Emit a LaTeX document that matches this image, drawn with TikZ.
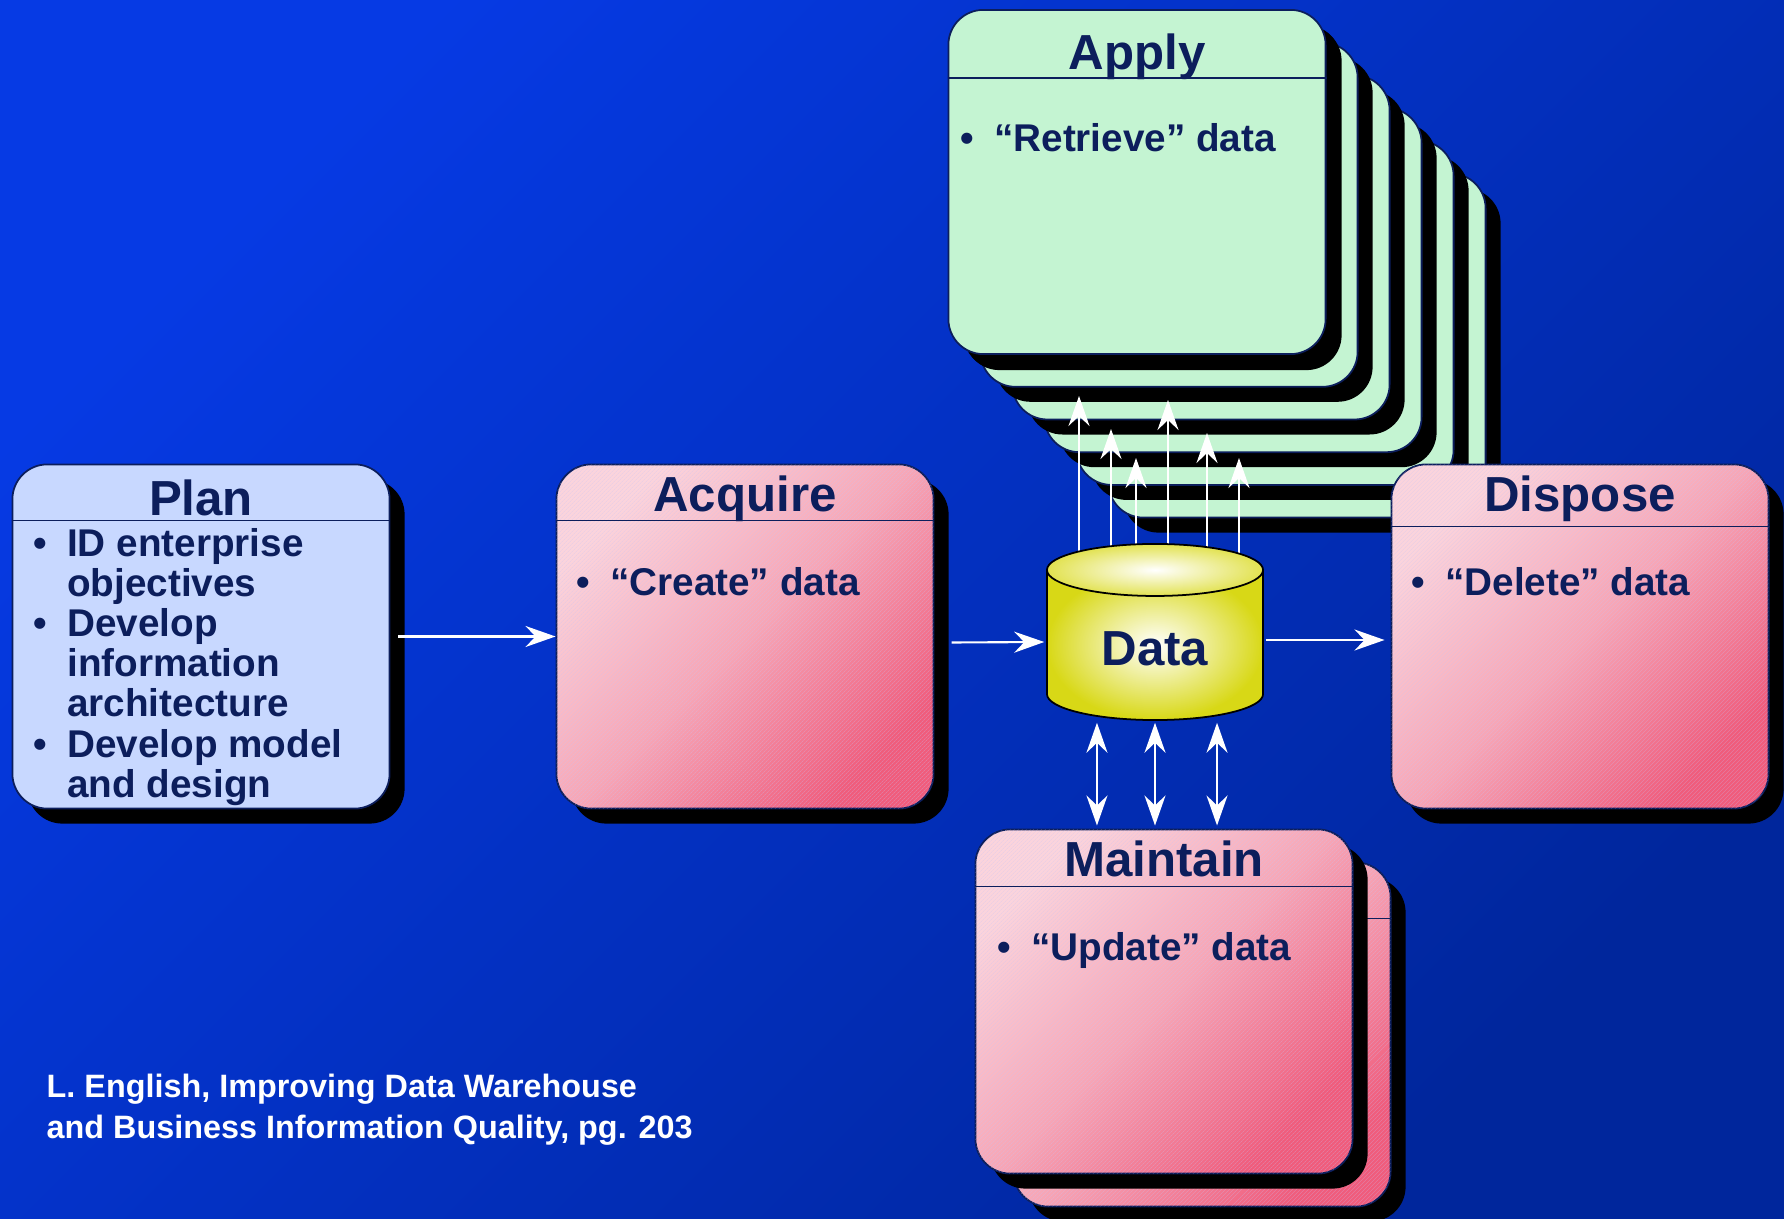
\documentclass[tikz,border=0pt]{standalone}
\usepackage{fontspec}
\setmainfont{Liberation Sans}
\usetikzlibrary{arrows.meta,shadows,patterns.meta}

\definecolor{ink}{RGB}{12,30,92}
\definecolor{bgtop}{RGB}{6,58,228}
\definecolor{bgbottom}{RGB}{0,38,156}
\definecolor{planblue}{RGB}{200,216,255}
\definecolor{applygreen}{RGB}{196,244,210}
\definecolor{pinklight}{RGB}{251,212,220}
\definecolor{pinkmid}{RGB}{247,166,182}
\definecolor{pinkdark}{RGB}{240,92,124}
\definecolor{hatch}{RGB}{200,196,246}
\definecolor{cylyellow}{RGB}{216,216,22}

\pgfdeclarelayer{front}
\pgfsetlayers{main,front}

\newcommand{\bulletmark}{\makebox[0.34cm][l]{\textbullet}}
\newcommand{\hangmark}{\hspace*{0.34cm}}

\tikzset{
  stage/.style={rectangle, rounded corners=0.35cm, draw=ink, line width=0.5pt,
    minimum width=3.77cm, minimum height=3.44cm,
    drop shadow={shadow xshift=0.15cm, shadow yshift=-0.15cm, opacity=1, fill=black}},
  pinkstage/.style={stage, top color=pinklight, bottom color=pinkdark,
    middle color=pinkmid, shading angle=45,
    postaction={pattern={Lines[angle=45,distance=0.9pt,line width=0.25pt]},
      pattern color=hatch, fill opacity=0.3}},
  rule/.style={draw=ink, line width=0.5pt},
  stagetitle/.style={font=\fontsize{14}{16}\selectfont\bfseries, text=ink, anchor=base},
  point/.style={font=\fontsize{11}{11.4}\selectfont\bfseries, text=ink, anchor=base west},
  credit/.style={font=\fontsize{9.2}{11.4}\selectfont\bfseries, text=white, anchor=base west},
  flow/.style={draw=white, line width=0.6pt,
    -{Stealth[length=0.3cm, width=0.21cm, inset=0.1cm]}},
  flowboth/.style={draw=white, line width=0.6pt,
    {Stealth[length=0.3cm, width=0.21cm, inset=0.1cm]}-{Stealth[length=0.3cm, width=0.21cm, inset=0.1cm]}},
  datastore/.style={rectangle, minimum width=2.2cm, minimum height=1.8cm,
    text height=0.66cm, text depth=0pt,
    font=\fontsize{14}{16}\selectfont\bfseries, text=ink,
    path picture={
      \coordinate (drum) at (path picture bounding box.center);
      % body of the drum
      \shade[inner color=white, outer color=cylyellow, draw=black, line width=0.5pt]
        ([shift={(-1.08cm,0.62cm)}]drum) -- ([shift={(-1.08cm,-0.62cm)}]drum)
        arc[start angle=180, end angle=360, x radius=1.08cm, y radius=0.26cm]
        -- ([shift={(1.08cm,0.62cm)}]drum) -- cycle;
      % lid
      \shade[inner color=white, outer color=cylyellow!75!white, draw=black, line width=0.5pt]
        ([yshift=0.62cm]drum) ellipse [x radius=1.08cm, y radius=0.26cm];
    }},
}

\begin{document}
\begin{tikzpicture}[x=0.01cm, y=0.01cm]
\tikzstyle{every node}+=[inner sep=0pt]
\useasboundingbox (0,0) rectangle (1784,-1219);
\shade[top color=bgtop, bottom color=bgbottom, shading angle=45] (0,0) rectangle (1784,-1219);

% Apply: a stack of copies
\foreach \k in {5,4,...,1}
  \node[stage, fill=applygreen] (apply\k) at ({1137+32*\k},{-182-32.7*\k}) {};
\node[stage, fill=applygreen, drop shadow={shadow xshift=0.16cm, shadow yshift=-0.16cm, opacity=1, fill=black}] (apply) at (1137,-182) {};
\draw[rule] ([yshift=-0.69cm]apply.north west) -- ([yshift=-0.69cm]apply.north east);
\node[stagetitle] (applyt) at ([yshift=-0.60cm]apply.north) {Apply};
\node[point] (applyp) at ([xshift=0.12cm,yshift=-1.42cm]apply.north west)
  {\begin{tabular}[t]{@{}l@{}}\bulletmark “Retrieve” data\end{tabular}};

% Plan
\node[stage, fill=planblue] (plan) at (201,-636.5) {};
\draw[rule] ([yshift=-0.57cm]plan.north west) -- ([yshift=-0.57cm]plan.north east);
\node[stagetitle] (plant) at ([yshift=-0.52cm]plan.north) {Plan};
\node[point] (planp) at ([xshift=0.21cm,yshift=-0.93cm]plan.north west)
  {\begin{tabular}[t]{@{}l@{}}
   \bulletmark ID enterprise\\
   \hangmark objectives\\
   \bulletmark Develop\\
   \hangmark information\\
   \hangmark architecture\\
   \bulletmark Develop model\\
   \hangmark and design
   \end{tabular}};

% Acquire
\node[pinkstage] (acquire) at (745,-636.5) {};
\draw[rule] ([yshift=-0.57cm]acquire.north west) -- ([yshift=-0.57cm]acquire.north east);
\node[stagetitle] (acquiret) at ([yshift=-0.48cm]acquire.north) {Acquire};
\node[point] (acquirep) at ([xshift=0.20cm,yshift=-1.32cm]acquire.north west)
  {\begin{tabular}[t]{@{}l@{}}\bulletmark “Create” data\end{tabular}};

% Dispose
\node[pinkstage] (dispose) at (1580,-636.5) {};
\draw[rule] ([yshift=-0.63cm]dispose.north west) -- ([yshift=-0.63cm]dispose.north east);
\node[stagetitle] (disposet) at ([yshift=-0.48cm]dispose.north) {Dispose};
\node[point] (disposep) at ([xshift=0.20cm,yshift=-1.32cm]dispose.north west)
  {\begin{tabular}[t]{@{}l@{}}\bulletmark “Delete” data\end{tabular}};

% Maintain, with one copy behind
\node[pinkstage] (maintain2) at (1202,-1034.5) {};
\draw[rule] ([yshift=-0.57cm]maintain2.north west) -- ([yshift=-0.57cm]maintain2.north east);
\node[pinkstage] (maintain) at (1164,-1001.5) {};
\draw[rule] ([yshift=-0.58cm]maintain.north west) -- ([yshift=-0.58cm]maintain.north east);
\node[stagetitle] (maintaint) at ([yshift=-0.48cm]maintain.north) {Maintain};
\node[point] (maintainp) at ([xshift=0.22cm,yshift=-1.32cm]maintain.north west)
  {\begin{tabular}[t]{@{}l@{}}\bulletmark “Update” data\end{tabular}};

% the data store sits above the arrows
\begin{pgfonlayer}{front}
\node[datastore] (data) at (1155,-632) {Data};
\end{pgfonlayer}

% arrows
\draw[flow] ([xshift=0.08cm]plan.east) -- (acquire.west);
\draw[flow] ([xshift=0.17cm,yshift=-0.06cm]acquire.east) -- ([yshift=-0.1cm]data.west);
\draw[flow, shorten >=0.06cm] ([yshift=-0.08cm]data.east) -- ([yshift=-0.08cm]data.east -| dispose.west);
\foreach \n/\x/\y in {1/1079/396, 2/1111/429, 3/1136/458, 4/1168/400, 5/1207/433, 6/1239/458}
  \coordinate (ret\n) at (\x,-\y);
\foreach \n in {1,...,6}
  \draw[flow] (data.center -| ret\n) -- (ret\n);
\foreach \dx in {-0.58,0,0.62}
  \draw[flowboth, shorten >=0.03cm] ([xshift=\dx cm]data.south) -- ([xshift=\dx cm]data.south |- maintain.north);

% source
\node[credit] (source) at (46,-1098)
  {\begin{tabular}[t]{@{}l@{}}L. English, Improving Data Warehouse\\and Business Information Quality, pg. 203\end{tabular}};
\end{tikzpicture}
\end{document}
